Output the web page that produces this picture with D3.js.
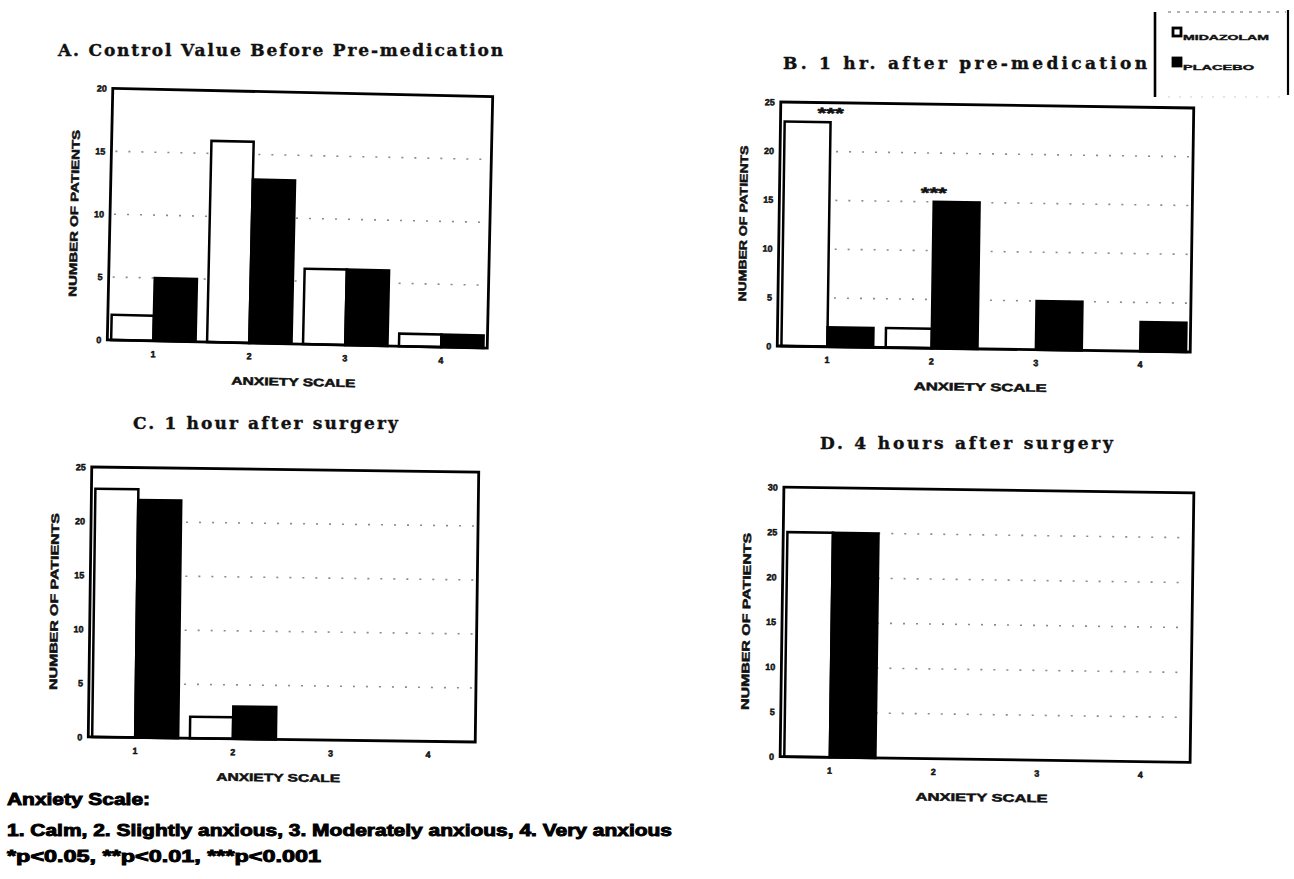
<!DOCTYPE html>
<html><head><meta charset="utf-8">
<script src="https://cdn.jsdelivr.net/npm/d3@7"></script>
<style>body{margin:0;background:#fff}</style>
</head><body>
<svg id="chart" width="1294" height="879" xmlns="http://www.w3.org/2000/svg"></svg>
<script>
// ---------- data ----------
const categories = ["1", "2", "3", "4"];
const seriesNames = ["MIDAZOLAM", "PLACEBO"];
const midazolamA = [2, 16, 6, 1];
const placeboA   = [5, 13, 6, 1];
const midazolamB = [23, 2, 0, 0];
const placeboB   = [2, 15, 5, 3];
const midazolamC = [23, 2, 0, 0];
const placeboC   = [22, 3, 0, 0];
const midazolamD = [25, 0, 0, 0];
const placeboD   = [25, 0, 0, 0];
const significanceB = ["***", "***", "", ""];
const yTicksA = [0, 5, 10, 15, 20];
const yTicksB = [0, 5, 10, 15, 20, 25];
const yTicksC = [0, 5, 10, 15, 20, 25];
const yTicksD = [0, 5, 10, 15, 20, 25, 30];
const titleA = "A. Control Value Before Pre-medication";
const titleB = "B. 1 hr. after pre-medication";
const titleC = "C. 1 hour after surgery";
const titleD = "D. 4 hours after surgery";
const xAxisTitle = "ANXIETY SCALE";
const yAxisTitle = "NUMBER OF PATIENTS";
const footnoteLines = [
  "Anxiety Scale:",
  "1. Calm, 2. Slightly anxious, 3. Moderately anxious, 4. Very anxious",
  "*p<0.05, **p<0.01, ***p<0.001"
];

// ---------- layout ----------
const panels = [
  {title: titleA, mid: midazolamA, pla: placeboA, ticks: yTicksA, sig: null,
   x0: 110, x1: 490, yTop: 92.5, yBot: 344, rot: 1.25,
   tx: 58, ty: 56, tw: 445, ylw: 167, xlw: 124},
  {title: titleB, mid: midazolamB, pla: placeboB, ticks: yTicksB, sig: significanceB,
   x0: 779, x1: 1192, yTop: 105, yBot: 349, rot: 0.83,
   tx: 783, ty: 69, tw: 364, ylw: 156, xlw: 133},
  {title: titleC, mid: midazolamC, pla: placeboC, ticks: yTicksC, sig: null,
   x0: 90, x1: 477, yTop: 469.5, yBot: 739.5, rot: 0.74,
   tx: 133, ty: 429, tw: 265, ylw: 177, xlw: 124},
  {title: titleD, mid: midazolamD, pla: placeboD, ticks: yTicksD, sig: null,
   x0: 782, x1: 1192, yTop: 490, yBot: 759.5, rot: 0.8,
   tx: 820, ty: 449, tw: 293, ylw: 177, xlw: 132}
];

const svg = d3.select("#chart");
svg.append("rect").attr("width", 1294).attr("height", 879).attr("fill", "#fff");

const sans = "'Liberation Sans', Arial, sans-serif";
const serif = "'DejaVu Serif', 'Liberation Serif', serif";

panels.forEach(p => {
  // title
  svg.append("text")
    .attr("x", p.tx).attr("y", p.ty)
    .attr("font-family", serif).attr("font-weight", "bold").attr("font-size", 17)
    .attr("textLength", p.tw).attr("lengthAdjust", "spacing")
    .attr("fill", "#111").attr("stroke", "#111").attr("stroke-width", 0.4)
    .text(p.title);

  const cx = (p.x0 + p.x1) / 2, cy = (p.yTop + p.yBot) / 2;
  const g = svg.append("g").attr("transform", `rotate(${p.rot},${cx},${cy})`);

  const x = d3.scaleBand().domain(categories).range([p.x0, p.x1])
    .paddingInner(0.12).paddingOuter(0.04);
  const xs = d3.scaleBand().domain(seriesNames).range([0, x.bandwidth()]);
  const y = d3.scaleLinear().domain([0, d3.max(p.ticks)]).range([p.yBot, p.yTop]);

  // dotted grid
  g.append("g").selectAll("line")
    .data(p.ticks.slice(1, -1))
    .join("line")
    .attr("x1", p.x0 + 4).attr("x2", p.x1 - 4)
    .attr("y1", d => y(d)).attr("y2", d => y(d))
    .attr("stroke", "#8a8a8a").attr("stroke-width", 1.6)
    .attr("stroke-dasharray", "2 11");

  // bars
  const rows = [];
  categories.forEach((c, i) => {
    rows.push({c, s: seriesNames[0], v: p.mid[i]});
    rows.push({c, s: seriesNames[1], v: p.pla[i]});
  });
  g.append("g").selectAll("rect")
    .data(rows.filter(d => d.v > 0))
    .join("rect")
    .attr("x", d => x(d.c) + xs(d.s))
    .attr("width", xs.bandwidth())
    .attr("y", d => y(d.v))
    .attr("height", d => y(0) - y(d.v))
    .attr("fill", d => d.s === seriesNames[0] ? "#fff" : "#000")
    .attr("stroke", "#000").attr("stroke-width", 2.5);

  // significance marks
  if (p.sig) {
    g.append("g").selectAll("text")
      .data(categories.map((c, i) => ({c, s: p.sig[i], v: Math.max(p.mid[i], p.pla[i])})).filter(d => d.s))
      .join("text")
      .attr("x", d => x(d.c) + x.bandwidth() / 2)
      .attr("y", d => y(d.v) - 4)
      .attr("text-anchor", "middle")
      .attr("font-family", sans).attr("font-weight", "bold").attr("font-size", 15)
      .attr("textLength", 26).attr("lengthAdjust", "spacingAndGlyphs")
      .attr("fill", "#111").attr("stroke", "#111").attr("stroke-width", 0.6)
      .text(d => d.s);
  }

  // frame
  g.append("rect")
    .attr("x", p.x0).attr("y", p.yTop)
    .attr("width", p.x1 - p.x0).attr("height", p.yBot - p.yTop)
    .attr("fill", "none").attr("stroke", "#000").attr("stroke-width", 2.8);

  // axes
  const yAxis = g.append("g").attr("transform", `translate(${p.x0},0)`)
    .call(d3.axisLeft(y).tickValues(p.ticks).tickSize(0).tickPadding(6));
  yAxis.select(".domain").remove();
  yAxis.selectAll("text")
    .attr("font-family", sans).attr("font-weight", "bold").attr("font-size", 9)
    .attr("fill", "#111").attr("stroke", "#111").attr("stroke-width", 0.5);

  const xAxis = g.append("g").attr("transform", `translate(0,${p.yBot})`)
    .call(d3.axisBottom(x).tickSize(0).tickPadding(10));
  xAxis.select(".domain").remove();
  xAxis.selectAll("text")
    .attr("font-family", sans).attr("font-weight", "bold").attr("font-size", 9)
    .attr("fill", "#111").attr("stroke", "#111").attr("stroke-width", 0.5);

  // axis titles
  g.append("text")
    .attr("x", cx - 3).attr("y", p.yBot + 42)
    .attr("text-anchor", "middle")
    .attr("font-family", sans).attr("font-weight", "bold").attr("font-size", 11)
    .attr("textLength", p.xlw).attr("lengthAdjust", "spacingAndGlyphs")
    .attr("fill", "#111").attr("stroke", "#111").attr("stroke-width", 0.5)
    .text(xAxisTitle);

  g.append("text")
    .attr("transform", `translate(${p.x0 - 32},${cy}) rotate(-90)`)
    .attr("text-anchor", "middle")
    .attr("font-family", sans).attr("font-weight", "bold").attr("font-size", 11)
    .attr("textLength", p.ylw).attr("lengthAdjust", "spacingAndGlyphs")
    .attr("fill", "#111").attr("stroke", "#111").attr("stroke-width", 0.5)
    .text(yAxisTitle);
});

// ---------- legend ----------
const lg = svg.append("g");
lg.append("line").attr("x1", 1155).attr("x2", 1155).attr("y1", 12).attr("y2", 97)
  .attr("stroke", "#000").attr("stroke-width", 2.6);
lg.append("line").attr("x1", 1288).attr("x2", 1288).attr("y1", 10).attr("y2", 95)
  .attr("stroke", "#000").attr("stroke-width", 2.2);
lg.append("line").attr("x1", 1168).attr("x2", 1286).attr("y1", 12).attr("y2", 12)
  .attr("stroke", "#999").attr("stroke-width", 1.6).attr("stroke-dasharray", "3 6");
lg.append("line").attr("x1", 1168).attr("x2", 1286).attr("y1", 97).attr("y2", 97)
  .attr("stroke", "#ccc").attr("stroke-width", 1.2).attr("stroke-dasharray", "2 9");
const legendY = d3.scalePoint().domain(seriesNames).range([28, 58]);
const legendW = {"MIDAZOLAM": 86, "PLACEBO": 71};
lg.selectAll("rect.key").data(seriesNames).join("rect")
  .attr("class", "key")
  .attr("x", 1173).attr("y", d => legendY(d))
  .attr("width", 8).attr("height", 8)
  .attr("fill", (d, i) => i === 0 ? "#fff" : "#000")
  .attr("stroke", "#000").attr("stroke-width", 2.8);
lg.selectAll("text.key").data(seriesNames).join("text")
  .attr("class", "key")
  .attr("x", 1183).attr("y", d => legendY(d) + 12)
  .attr("font-family", sans).attr("font-weight", "bold").attr("font-size", 8)
  .attr("textLength", d => legendW[d]).attr("lengthAdjust", "spacingAndGlyphs")
  .attr("fill", "#111").attr("stroke", "#111").attr("stroke-width", 0.4)
  .text(d => d);

// ---------- footnote ----------
const footW = [143, 665, 314];
const footY = [805, 836, 862];
svg.append("g").selectAll("text").data(footnoteLines).join("text")
  .attr("x", 7).attr("y", (d, i) => footY[i])
  .attr("font-family", sans).attr("font-weight", "bold").attr("font-size", 16)
  .attr("textLength", (d, i) => footW[i]).attr("lengthAdjust", "spacingAndGlyphs")
  .attr("fill", "#000").attr("stroke", "#000").attr("stroke-width", 0.9)
  .text(d => d);
</script>
</body></html>
